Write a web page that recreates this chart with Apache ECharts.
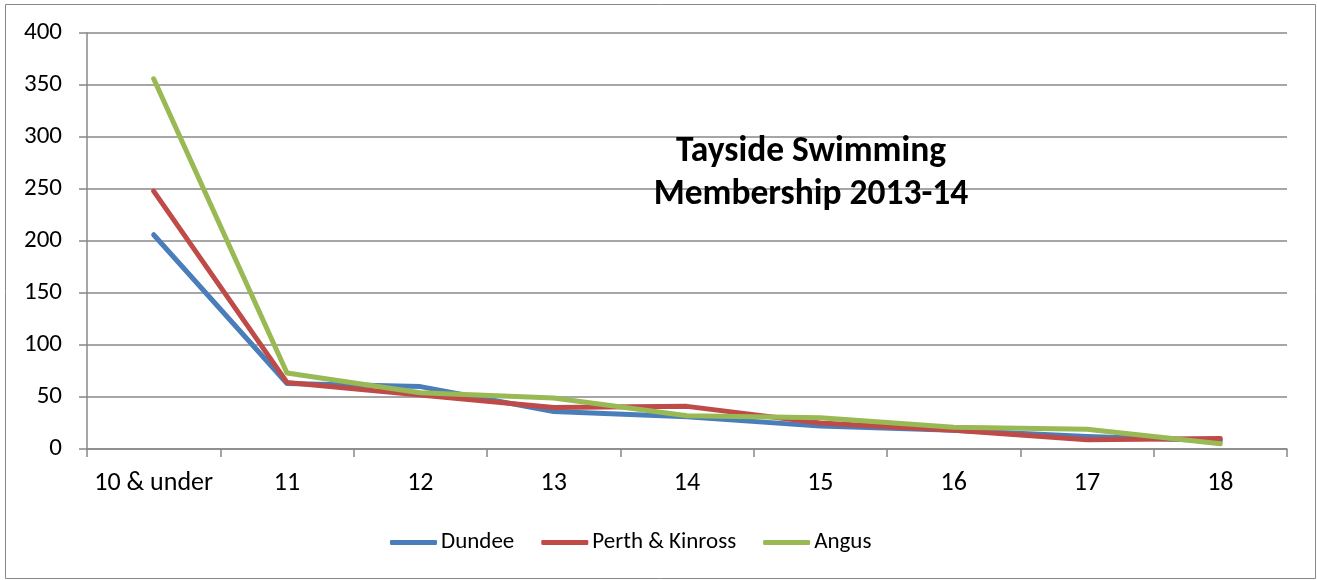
<!DOCTYPE html>
<html><head><meta charset="utf-8">
<script src="https://cdn.jsdelivr.net/npm/echarts@6/dist/echarts.min.js"></script>
<style>html,body{margin:0;padding:0;background:#fff}#c{width:1317px;height:580px}</style>
</head><body><div id="c"></div>
<script>
const categories = ['10 & under','11','12','13','14','15','16','17','18'];
const dundee = [206, 63, 60, 36, 31, 22, 18, 12, 8];
const perthKinross = [248, 64, 52, 40, 41, 25, 18, 9, 10];
const angus = [356, 73, 54, 49, 32, 30, 21, 19, 5];
const yTicks = {min: 0, max: 400, interval: 50};

const FONT = 'Carlito, Calibri, Lato, "Open Sans", sans-serif';
const chart = echarts.init(document.getElementById('c'));
const mk = (name, data, color) => ({
  name, type: 'line', data, symbol: 'none', smooth: false,
  lineStyle: {color, width: 5, cap: 'round', join: 'round'}, itemStyle: {color}
});
chart.setOption({
  animation: false,
  textStyle: {fontFamily: FONT},
  graphic: [{type: 'rect', shape: {x: 5.5, y: 4.5, width: 1310, height: 574}, style: {fill: 'none', stroke: '#888', lineWidth: 1}, silent: true}],
  title: {text: 'Tayside Swimming\nMembership 2013-14', left: 811, top: 131, textAlign: 'center', padding: 0,
    textStyle: {fontFamily: FONT, fontWeight: 'bold', fontSize: 35.5, lineHeight: 43, color: '#000'}},
  grid: {left: 87, right: 30, top: 33, bottom: 131},
  legend: {bottom: 21, left: 385, itemWidth: 47, itemHeight: 5, itemGap: 27,
    icon: 'roundRect',
    textStyle: {fontFamily: FONT, fontSize: 23, color: '#000', padding: [0,0,0,-1]},
    data: ['Dundee','Perth & Kinross','Angus']},
  xAxis: {type: 'category', data: categories, boundaryGap: true,
    axisLine: {lineStyle: {color: '#888', width: 1.5}},
    axisTick: {show: true, length: 8, interval: 0, lineStyle: {color: '#888', width: 1.5}},
    axisLabel: {color: '#000', fontSize: 26, margin: 21, interval: 0, fontFamily: FONT}},
  yAxis: {type: 'value', min: yTicks.min, max: yTicks.max, interval: yTicks.interval,
    axisLine: {show: true, lineStyle: {color: '#888', width: 1.5}},
    axisTick: {show: true, length: 8, lineStyle: {color: '#888', width: 1.5}},
    splitLine: {lineStyle: {color: '#888', width: 1.5}},
    axisLabel: {color: '#000', fontSize: 25, margin: 25, fontFamily: FONT}},
  series: [mk('Dundee', dundee, '#4A7EBB'), mk('Perth & Kinross', perthKinross, '#BE4B48'), mk('Angus', angus, '#98B954')]
});
</script></body></html>
